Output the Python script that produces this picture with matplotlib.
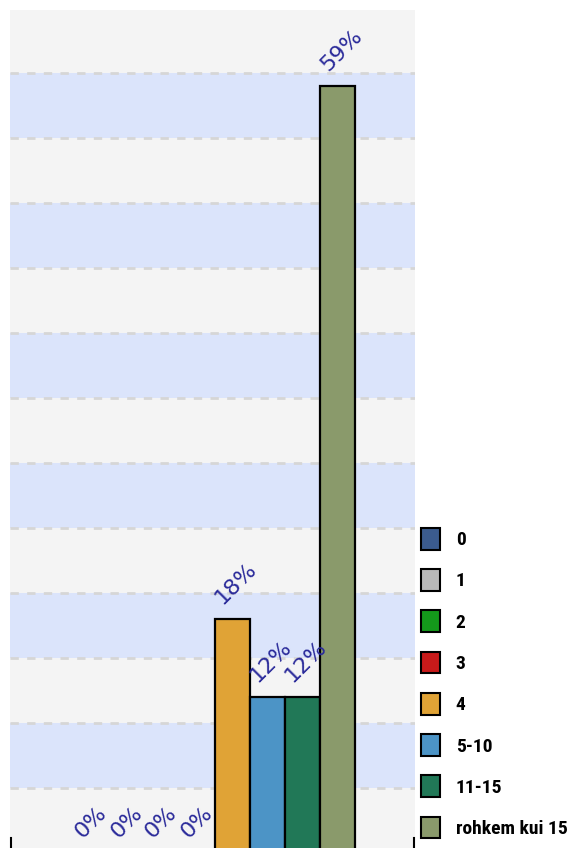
import matplotlib
matplotlib.use("Agg")
import matplotlib.pyplot as plt
from matplotlib.patches import Patch
from matplotlib import font_manager

categories = ["0", "1", "2", "3", "4", "5-10", "11-15", "rohkem kui 15"]
percent = [0, 0, 0, 0, 18, 12, 12, 59]
colors = ["#3b5b8e", "#b9b9b9", "#14991b", "#c81a1a", "#e0a336",
          "#4c94c6", "#217857", "#8a9a6b"]

names = {f.name for f in font_manager.fontManager.ttflist}
narrow = "DejaVu Sans"
for cand in ["Roboto Condensed", "Liberation Sans Narrow", "DejaVu Sans Condensed"]:
    if cand in names:
        narrow = cand
        break
plt.rcParams["font.family"] = [narrow, "DejaVu Sans"]

fig = plt.figure(figsize=(5.72, 8.48), dpi=100)
W, H = 572, 848
ax = fig.add_axes([10 / W, 0, 405 / W, 838 / H])

# y scale: 13 px per percent, baseline slightly below the picture
ax.set_ylim(5 / 13, 843 / 13)
x0, x1 = -0.5 - 65 / 35, 7.5 + 60 / 35
ax.set_xlim(x0, x1)

ax.set_facecolor("#f4f4f4")
for k in range(0, 13):
    if k % 2 == 1:
        ax.axhspan(5 * k, 5 * (k + 1), color="#dbe4fb", zorder=0, lw=0)
for g in range(5, 65, 5):
    ax.axhline(g, color="#d6d6d6", lw=2, ls=(0, (3, 3)), zorder=0.5)

# little axis marks at the lower corners
ax.axvline(x0 + 0.02, ymin=0, ymax=10 / 838, color="black", lw=1.5, clip_on=False)
ax.axvline(x1 - 0.02, ymin=0, ymax=10 / 838, color="black", lw=1.5, clip_on=False)

x = list(range(len(categories)))
bars = ax.bar(x, percent, width=1.0, color=colors, edgecolor="black",
              linewidth=1.6, zorder=2)

for xi, v in zip(x, percent):
    ax.annotate(f"{v}%", xy=(xi - 0.5, v), xytext=(8, 14), textcoords="offset pixels",
                rotation=45, rotation_mode="anchor", ha="left", va="baseline",
                color="#2a2a9a", fontsize=16, family=["DejaVu Sans"],
                zorder=3, annotation_clip=False)

for s in ax.spines.values():
    s.set_visible(False)
ax.set_xticks([])
ax.set_yticks([])

handles = [Patch(facecolor=c, edgecolor="black", linewidth=1.5) for c in colors]
fig.legend(handles, categories, loc="upper left",
           bbox_to_anchor=(413 / W, 1 - 520 / H), frameon=False,
           prop={"weight": "bold", "size": 14},
           handlelength=1.0, handleheight=1.35, labelspacing=1.0,
           handletextpad=0.8, borderaxespad=0)

fig.savefig("out.png", dpi=100)
